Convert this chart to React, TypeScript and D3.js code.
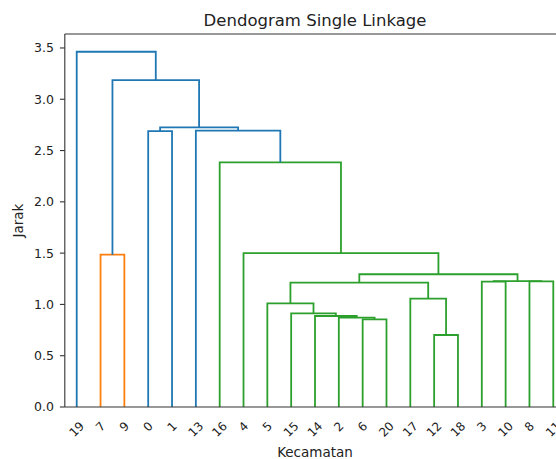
import React from 'react';
import * as d3 from 'd3';

// leaf labels (observation ids)
const kecamatan = Array.from({ length: 21 }, (_, i) => String(i));

// linkage, scipy style: ids < 21 are leaves, 21+ are merged clusters
const mergeLeft = [12, 6, 2, 14, 15, 5, 17, 26, 3, 8, 29, 28, 7, 4, 16, 0, 13, 36, 33, 19];
const mergeRight = [18, 20, 22, 23, 24, 25, 21, 27, 10, 11, 30, 31, 9, 32, 34, 1, 35, 37, 38, 39];
const mergeHeight = [
  0.702, 0.855, 0.872, 0.887, 0.912, 1.01, 1.056, 1.212, 1.222, 1.225,
  1.228, 1.294, 1.485, 1.501, 2.385, 2.69, 2.695, 2.725, 3.187, 3.463,
];

const yTicks = [0, 0.5, 1.0, 1.5, 2.0, 2.5, 3.0, 3.5];

const clusterPalette = ['#ff7f0e', '#2ca02c', '#d62728', '#9467bd'];
const aboveColor = '#1f77b4';

const FONT = '"DejaVu Sans", sans-serif';

type Link = { x0: number; x1: number; h0: number; h1: number; h: number; color: string };

const App = () => {
  const width = 556;
  const height = 459;
  const plot = { left: 64.8, right: 565.2, top: 34, bottom: 407 };

  const n = kecamatan.length;
  const maxH = d3.max(mergeHeight) as number;
  const threshold = 0.7 * maxH;

  const x = d3.scaleLinear().domain([0, n * 10]).range([plot.left, plot.right]);
  const y = d3.scaleLinear().domain([0, maxH * 1.05]).range([plot.bottom, plot.top]);

  // walk the tree left to right, placing leaves and collecting links
  const links: Link[] = [];
  const leafOrder: number[] = [];
  let colorIdx = 0;
  const walk = (id: number, color: string | null): { pos: number; h: number } => {
    if (id < n) {
      const pos = 5 + 10 * leafOrder.length;
      leafOrder.push(id);
      return { pos, h: 0 };
    }
    const m = id - n;
    const h = mergeHeight[m];
    let c = color;
    if (!c && h < threshold) c = clusterPalette[colorIdx++ % clusterPalette.length];
    const l = walk(mergeLeft[m], c);
    const r = walk(mergeRight[m], c);
    links.push({ x0: l.pos, x1: r.pos, h0: l.h, h1: r.h, h, color: c || aboveColor });
    return { pos: (l.pos + r.pos) / 2, h };
  };
  walk(n + mergeHeight.length - 1, null);

  const line = d3.line<[number, number]>()
    .x(d => x(d[0]))
    .y(d => y(d[1]));

  const xfs = 12;
  const labelTop = 419;

  return (
    <svg
      width={width}
      height={height}
      style={{ position: 'absolute', left: 0, top: 0, background: '#fff' }}
      fontFamily={FONT}
    >
      {/* links */}
      <g fill="none" strokeWidth={1.8}>
        {links.map((d, i) => (
          <path
            key={i}
            d={line([[d.x0, d.h0], [d.x0, d.h], [d.x1, d.h], [d.x1, d.h1]]) || ''}
            stroke={d.color}
          />
        ))}
      </g>

      {/* spines */}
      <g stroke="#333" strokeWidth={1.1} fill="none">
        <line x1={plot.left} x2={plot.left} y1={plot.top} y2={plot.bottom} />
        <line x1={plot.left} x2={plot.right} y1={plot.bottom} y2={plot.bottom} />
        <line x1={plot.left} x2={plot.right} y1={plot.top} y2={plot.top} />
        <line x1={plot.right} x2={plot.right} y1={plot.top} y2={plot.bottom} />
      </g>

      {/* y axis */}
      <g>
        {yTicks.map(t => (
          <g key={t} transform={`translate(0,${y(t)})`}>
            <line x1={plot.left - 4.9} x2={plot.left} stroke="#333" strokeWidth={1.1} />
            <text x={54} dy="0.35em" textAnchor="end" fontSize={12.5} fill="#222">
              {d3.format('.1f')(t)}
            </text>
          </g>
        ))}
      </g>

      {/* leaf labels */}
      <g>
        {leafOrder.map((id, i) => {
          const label = kecamatan[id];
          const w = label.length * 0.636 * xfs;
          const ext = (w + xfs * 1.17) / Math.SQRT2;
          return (
            <text
              key={id}
              transform={`translate(${x(5 + 10 * i)},${labelTop + ext / 2}) rotate(-45)`}
              textAnchor="middle"
              dominantBaseline="central"
              fontSize={xfs}
              fill="#222"
            >
              {label}
            </text>
          );
        })}
      </g>

      {/* labels */}
      <text x={(plot.left + plot.right) / 2} y={26} textAnchor="middle" fontSize={16.5} fill="#222">
        Dendogram Single Linkage
      </text>
      <text x={(plot.left + plot.right) / 2} y={457} textAnchor="middle" fontSize={13.5} fill="#222">
        Kecamatan
      </text>
      <text
        transform={`translate(23,${(plot.top + plot.bottom) / 2}) rotate(-90)`}
        textAnchor="middle"
        fontSize={13.5}
        fill="#222"
      >
        Jarak
      </text>
    </svg>
  );
};

export default App;
